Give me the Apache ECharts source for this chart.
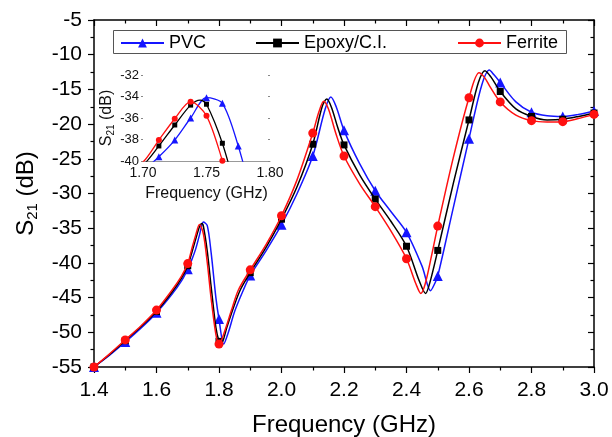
<!DOCTYPE html>
<html><head><meta charset="utf-8">
<script src="https://cdn.jsdelivr.net/npm/echarts@6/dist/echarts.min.js"></script>
<style>html,body{margin:0;padding:0;background:#fff}#c{width:612px;height:437px}</style>
</head><body><div id="c"></div>
<script>
// ---- data ----
const seriesNames = ['PVC', 'Epoxy/C.I.', 'Ferrite'];

const freqPVC = [1.40,1.45,1.50,1.55,1.60,1.65,1.68,1.70,1.7125,1.725,1.7375,1.75,1.7625,1.775,1.79,1.80,1.815,1.83,1.85,1.878,1.90,1.95,2.00,2.05,2.10,2.14,2.158,2.175,2.20,2.25,2.30,2.35,2.40,2.45,2.477,2.49,2.50,2.55,2.60,2.64,2.665,2.68,2.70,2.75,2.80,2.85,2.90,2.95,3.00];
const s21PVC  = [-55.0,-53.3,-51.4,-49.4,-47.2,-44.5,-42.6,-40.9,-39.6,-38.05,-36.0,-34.11,-34.63,-38.6,-45.0,-48.1,-51.7,-50.0,-47.0,-43.9,-41.8,-38.3,-34.5,-30.0,-24.6,-17.8,-16.1,-17.5,-20.9,-25.7,-29.6,-32.6,-35.6,-40.5,-44.0,-43.0,-41.9,-32.0,-22.1,-14.5,-12.2,-12.9,-14.0,-16.8,-18.3,-18.8,-18.9,-18.6,-18.1];

const freqEpoxy = [1.40,1.45,1.50,1.55,1.60,1.65,1.68,1.70,1.7125,1.725,1.7375,1.745,1.75,1.7625,1.775,1.79,1.80,1.807,1.825,1.845,1.868,1.90,1.95,2.00,2.05,2.10,2.13,2.145,2.16,2.18,2.20,2.25,2.30,2.35,2.40,2.44,2.461,2.475,2.50,2.55,2.60,2.63,2.651,2.67,2.70,2.75,2.80,2.85,2.90,2.95,3.00];
const s21Epoxy  = [-55.0,-53.2,-51.2,-49.2,-47.0,-44.2,-42.2,-40.4,-38.6,-36.65,-34.8,-34.33,-34.72,-38.35,-43.5,-49.3,-51.3,-51.7,-49.3,-46.6,-43.9,-41.4,-37.8,-33.7,-29.0,-22.9,-17.5,-16.4,-17.6,-20.5,-23.0,-27.3,-30.8,-34.0,-37.6,-42.5,-44.4,-42.8,-38.2,-28.5,-19.4,-14.0,-12.3,-13.2,-15.3,-17.8,-18.9,-19.4,-19.3,-18.9,-18.4];

const freqFerrite = [1.40,1.45,1.50,1.55,1.60,1.65,1.68,1.70,1.7125,1.725,1.7375,1.75,1.7625,1.775,1.79,1.80,1.82,1.84,1.862,1.90,1.95,2.00,2.05,2.10,2.12,2.135,2.15,2.175,2.20,2.25,2.30,2.35,2.40,2.43,2.446,2.46,2.48,2.50,2.55,2.60,2.632,2.65,2.667,2.70,2.75,2.80,2.85,2.90,2.95,3.00];
const s21Ferrite  = [-55.0,-53.1,-51.1,-49.1,-46.8,-43.9,-41.9,-40.1,-38.05,-36.07,-34.48,-35.8,-39.97,-45.2,-50.3,-51.7,-49.6,-46.8,-43.9,-41.0,-37.4,-33.2,-28.0,-21.3,-18.2,-16.7,-17.8,-21.5,-24.6,-28.6,-31.9,-35.4,-39.4,-43.0,-44.4,-43.0,-39.0,-34.7,-24.8,-16.2,-12.6,-13.3,-14.6,-16.8,-18.7,-19.5,-19.7,-19.65,-19.2,-18.6];

const xTicksMain = {min: 1.4, max: 3.0, step: 0.2};
const yTicksMain = {min: -55, max: -5, step: 5};
const xTicksInset = {min: 1.70, max: 1.80, step: 0.05};
const yTicksInset = {min: -40, max: -32, step: 2};
const markerStepMain = 0.1;
const markerStepInset = 0.0125;

// ---- chart ----
const FONT = '"Liberation Sans", Arial, sans-serif';
const colors = ['#1515ff', '#000000', '#ff1010'];
const symbols = ['triangle', 'rect', 'circle'];
const sizesMain = [10, 7, 9];
const sizesInset = [7, 5, 6];
const freqs = [freqPVC, freqEpoxy, freqFerrite];
const vals = [s21PVC, s21Epoxy, s21Ferrite];

function isMultiple(x, step) {
  const r = x / step;
  return Math.abs(r - Math.round(r)) < 1e-6;
}
function buildData(f, v, step, sym) {
  return f.map((x, i) => ({value: [x, v[i]], symbol: isMultiple(x, step) ? sym : 'none'}));
}

const series = [];
for (let k = 0; k < 3; k++) {
  series.push({
    name: seriesNames[k], type: 'line', xAxisIndex: 0, yAxisIndex: 0,
    data: buildData(freqs[k], vals[k], markerStepMain, symbols[k]),
    smooth: 0.3, symbol: symbols[k], symbolSize: sizesMain[k], showSymbol: true,
    lineStyle: {color: colors[k], width: 1.5}, itemStyle: {color: colors[k]},
    clip: true, z: 3 + k
  });
}
for (let k = 0; k < 3; k++) {
  series.push({
    name: seriesNames[k], type: 'line', xAxisIndex: 2, yAxisIndex: 2,
    data: buildData(freqs[k], vals[k], markerStepInset, symbols[k]),
    smooth: 0.3, symbol: symbols[k], symbolSize: sizesInset[k], showSymbol: true,
    lineStyle: {color: colors[k], width: 1.3}, itemStyle: {color: colors[k]},
    clip: true, z: 3 + k
  });
}

const axLine = {onZero: false, lineStyle: {color: '#000', width: 1.5}};
const tickStyle = {color: '#000', width: 1.2};

const legendCommon = {
  orient: 'horizontal', padding: 0, itemWidth: 43, itemHeight: 11, selectedMode: false, z: 10,
  textStyle: {fontSize: 18, color: '#000', fontFamily: FONT}
};

const option = {
  animation: false,
  backgroundColor: '#fff',
  grid: [
    {left: 94, top: 20, width: 500, height: 347, outerBoundsMode: 'none', containLabel: false},
    {left: 143, top: 75, width: 127, height: 86, outerBoundsMode: 'none', containLabel: false}
  ],
  xAxis: [
    {gridIndex: 0, type: 'value', position: 'bottom', min: xTicksMain.min, max: xTicksMain.max, interval: xTicksMain.step,
     axisLine: axLine, axisTick: {inside: false, length: 6, lineStyle: tickStyle},
     minorTick: {show: true, splitNumber: 2, length: 3.5, lineStyle: tickStyle},
     splitLine: {show: false},
     axisLabel: {fontSize: 21, color: '#000', margin: 13, fontFamily: FONT, formatter: v => v.toFixed(1)},
     name: 'Frequency (GHz)', nameLocation: 'middle', nameGap: 46,
     nameTextStyle: {fontSize: 24, color: '#000', fontFamily: FONT}},
    {gridIndex: 0, type: 'value', position: 'top', min: xTicksMain.min, max: xTicksMain.max, interval: xTicksMain.step,
     axisLine: axLine, axisTick: {inside: true, length: 6, lineStyle: tickStyle},
     minorTick: {show: true, splitNumber: 2, length: 3.5, lineStyle: tickStyle},
     splitLine: {show: false}, axisLabel: {show: false}},
    {gridIndex: 1, type: 'value', position: 'bottom', min: xTicksInset.min, max: xTicksInset.max, interval: xTicksInset.step,
     axisLine: {onZero: false, lineStyle: {color: '#999', width: 1}}, axisTick: {show: false},
     splitLine: {show: false},
     axisLabel: {fontSize: 14, color: '#111', margin: 5, fontFamily: FONT, formatter: v => v.toFixed(2)},
     name: 'Frequency (GHz)', nameLocation: 'middle', nameGap: 25,
     nameTextStyle: {fontSize: 16, color: '#111', fontFamily: FONT}}
  ],
  yAxis: [
    {gridIndex: 0, type: 'value', position: 'left', min: yTicksMain.min, max: yTicksMain.max, interval: yTicksMain.step,
     axisLine: axLine, axisTick: {inside: false, length: 6, lineStyle: tickStyle},
     minorTick: {show: true, splitNumber: 2, length: 3.5, lineStyle: tickStyle},
     splitLine: {show: false},
     axisLabel: {fontSize: 21, color: '#000', margin: 12, fontFamily: FONT},
     name: '{a|S}{b|21}{a| (dB)}', nameLocation: 'middle', nameGap: 49,
     nameTextStyle: {color: '#000', fontFamily: FONT,
       rich: {a: {fontSize: 24, lineHeight: 28, fontFamily: FONT, color: '#000'},
              b: {fontSize: 15, fontFamily: FONT, color: '#000', verticalAlign: 'bottom'}}}},
    {gridIndex: 0, type: 'value', position: 'right', min: yTicksMain.min, max: yTicksMain.max, interval: yTicksMain.step,
     axisLine: axLine, axisTick: {inside: true, length: 6, lineStyle: tickStyle},
     minorTick: {show: true, splitNumber: 2, length: 3.5, lineStyle: tickStyle},
     splitLine: {show: false}, axisLabel: {show: false}},
    {gridIndex: 1, type: 'value', position: 'left', min: yTicksInset.min, max: yTicksInset.max, interval: yTicksInset.step,
     axisLine: {onZero: false, show: false}, axisTick: {show: true, length: 2, lineStyle: {color: '#888'}},
     splitLine: {show: false},
     axisLabel: {fontSize: 13, color: '#111', margin: 4, fontFamily: FONT},
     name: '{a|S}{b|21}{a| (dB)}', nameLocation: 'middle', nameGap: 17,
     nameTextStyle: {color: '#111', fontFamily: FONT,
       rich: {a: {fontSize: 16, lineHeight: 19, fontFamily: FONT, color: '#111'},
              b: {fontSize: 10, fontFamily: FONT, color: '#111', verticalAlign: 'bottom'}}}},
    {gridIndex: 1, type: 'value', position: 'right', min: yTicksInset.min, max: yTicksInset.max, interval: yTicksInset.step,
     axisLine: {onZero: false, show: false}, axisTick: {show: true, inside: true, length: 2, lineStyle: {color: '#888'}},
     splitLine: {show: false}, axisLabel: {show: false}}
  ],
  legend: [
    Object.assign({data: [seriesNames[0]], left: 120, top: 34}, legendCommon),
    Object.assign({data: [seriesNames[1]], left: 255, top: 34}, legendCommon),
    Object.assign({data: [seriesNames[2]], left: 457, top: 34}, legendCommon)
  ],
  graphic: [
    {type: 'rect', z: 1, shape: {x: 113.5, y: 30.5, width: 453, height: 23},
     style: {fill: '#fff', stroke: '#555', lineWidth: 1}}
  ],
  series: series
};

const chart = echarts.init(document.getElementById('c'), null, {renderer: 'canvas'});
chart.setOption(option);
</script></body></html>
